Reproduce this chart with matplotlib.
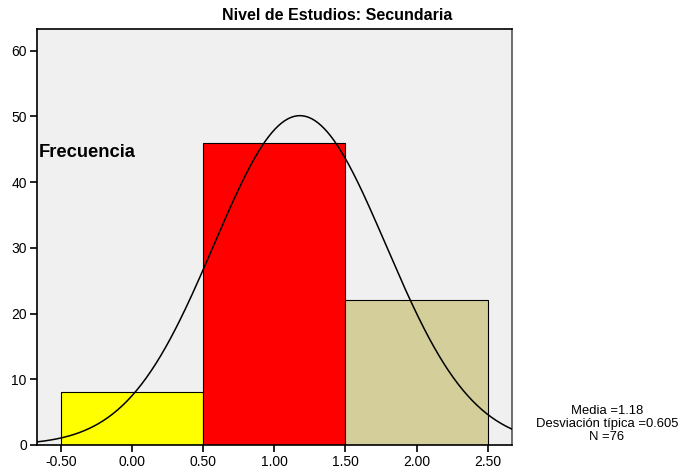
import numpy as np
from matplotlib import pyplot as plt

plt.rcParams['font.family'] = ['Liberation Sans', 'DejaVu Sans']

# histogram data
bin_left = [-0.5, 0.5, 1.5]
counts = [8, 46, 22]
bar_colors = ['#ffff00', '#ff0000', '#d3ce9a']
x_ticks = [-0.5, 0.0, 0.5, 1.0, 1.5, 2.0, 2.5]
y_ticks = [0, 10, 20, 30, 40, 50, 60]
media = 1.18
sd = 0.605
n = 76

fig = plt.figure(figsize=(6.82, 4.76), dpi=100)
ax = fig.add_axes([36.5/682, 1-445/476, 475.5/682, 416/476])
ax.set_facecolor('#f0f0f0')

ax.bar(bin_left, counts, width=1.0, align='edge', color=bar_colors,
       edgecolor='black', linewidth=0.8, zorder=2)

# normal curve scaled to counts (bin width 1)
xs = np.linspace(-0.67, 2.67, 300)
ys = n / (sd*np.sqrt(2*np.pi)) * np.exp(-0.5*((xs-media)/sd)**2)
ax.plot(xs, ys, color='black', linewidth=1.1, zorder=3)

ax.set_xlim(-0.67, 2.67)
ax.set_ylim(0, 63.3)
ax.set_xticks(x_ticks)
ax.set_xticklabels(['%.2f' % v for v in x_ticks])
ax.set_yticks(y_ticks)
ax.tick_params(axis='both', direction='out', length=5, width=1.2,
               labelsize=10, colors='black', pad=2)
for s in ax.spines.values():
    s.set_linewidth(1.2)
ax.spines['right'].set_color('#555555')

fig.text(337/682, 1-16/476, 'Nivel de Estudios: Secundaria', fontsize=11.5,
         fontweight='bold', ha='center', va='center')
ax.text(0.005, 0.703, 'Frecuencia', transform=ax.transAxes, fontsize=13.2,
        fontweight='bold', va='center', ha='left')

fig.text(607/682, 1-424/476, 'Media =%.2f\nDesviación típica =%.3f\nN =%d' % (media, sd, n),
         ha='center', va='center', fontsize=9.4, linespacing=1.1)

fig.savefig('out.png', dpi=100)
